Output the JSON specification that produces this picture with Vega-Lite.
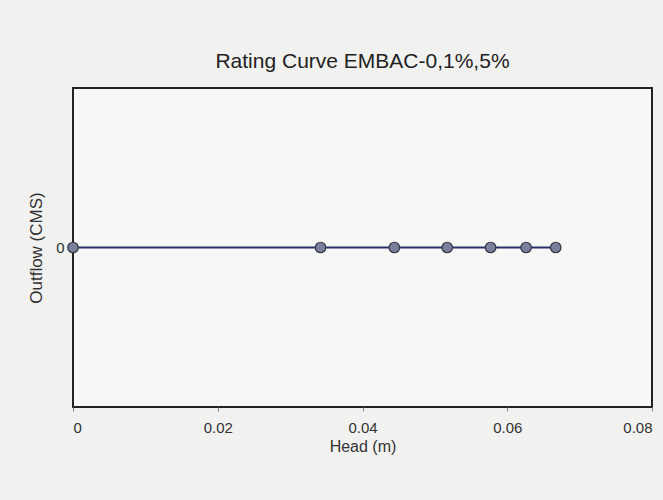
{
  "$schema": "https://vega.github.io/schema/vega-lite/v6.json",
  "autosize": "none",
  "width": 579,
  "height": 319,
  "padding": {"left": 73, "top": 88, "right": 11, "bottom": 93},
  "background": "#f1f1ef",
  "title": {
    "text": "Rating Curve EMBAC-0,1%,5%",
    "font": "Liberation Sans",
    "fontSize": 21,
    "fontWeight": "normal",
    "color": "#222222",
    "offset": 16,
    "anchor": "middle"
  },
  "config": {
    "view": {"stroke": "#222222", "strokeWidth": 2, "fill": "#f7f7f5"}
  },
  "data": {
    "values": [
      {"head": 0.0, "outflow": 0},
      {"head": 0.0342, "outflow": 0},
      {"head": 0.0444, "outflow": 0},
      {"head": 0.0517, "outflow": 0},
      {"head": 0.0577, "outflow": 0},
      {"head": 0.0626, "outflow": 0},
      {"head": 0.0667, "outflow": 0}
    ]
  },
  "layer": [
    {
      "mark": {"type": "line", "color": "#2b2f6e", "strokeWidth": 2},
      "encoding": {
        "x": {"field": "head", "type": "quantitative", "scale": {"domain": [0, 0.08], "nice": false}, "title": "Head (m)", "axis": {"values": [0, 0.02, 0.04, 0.06, 0.08], "tickSize": 4, "tickColor": "#888888", "labelPadding": 9, "titlePadding": 3, "format": "~g", "labelFont": "Liberation Sans", "titleFont": "Liberation Sans", "labelFontSize": 15, "titleFontSize": 16, "titleFontWeight": "normal", "labelColor": "#333333", "titleColor": "#333333", "grid": false, "domain": false}},
        "y": {"field": "outflow", "type": "quantitative", "scale": {"domain": [-1, 1], "nice": false}, "title": "Outflow (CMS)", "axis": {"values": [0], "format": "d", "ticks": false, "labelPadding": 9, "titlePadding": 10, "labelFont": "Liberation Sans", "titleFont": "Liberation Sans", "labelFontSize": 15, "titleFontSize": 17, "titleFontWeight": "normal", "labelColor": "#333333", "titleColor": "#333333", "grid": false, "domain": false}}
      }
    },
    {
      "mark": {"type": "point", "filled": true, "size": 110, "fill": "#7b7f9c", "stroke": "#333344", "strokeWidth": 1.2, "opacity": 1},
      "encoding": {
        "x": {"field": "head", "type": "quantitative"},
        "y": {"field": "outflow", "type": "quantitative"}
      }
    }
  ]
}
